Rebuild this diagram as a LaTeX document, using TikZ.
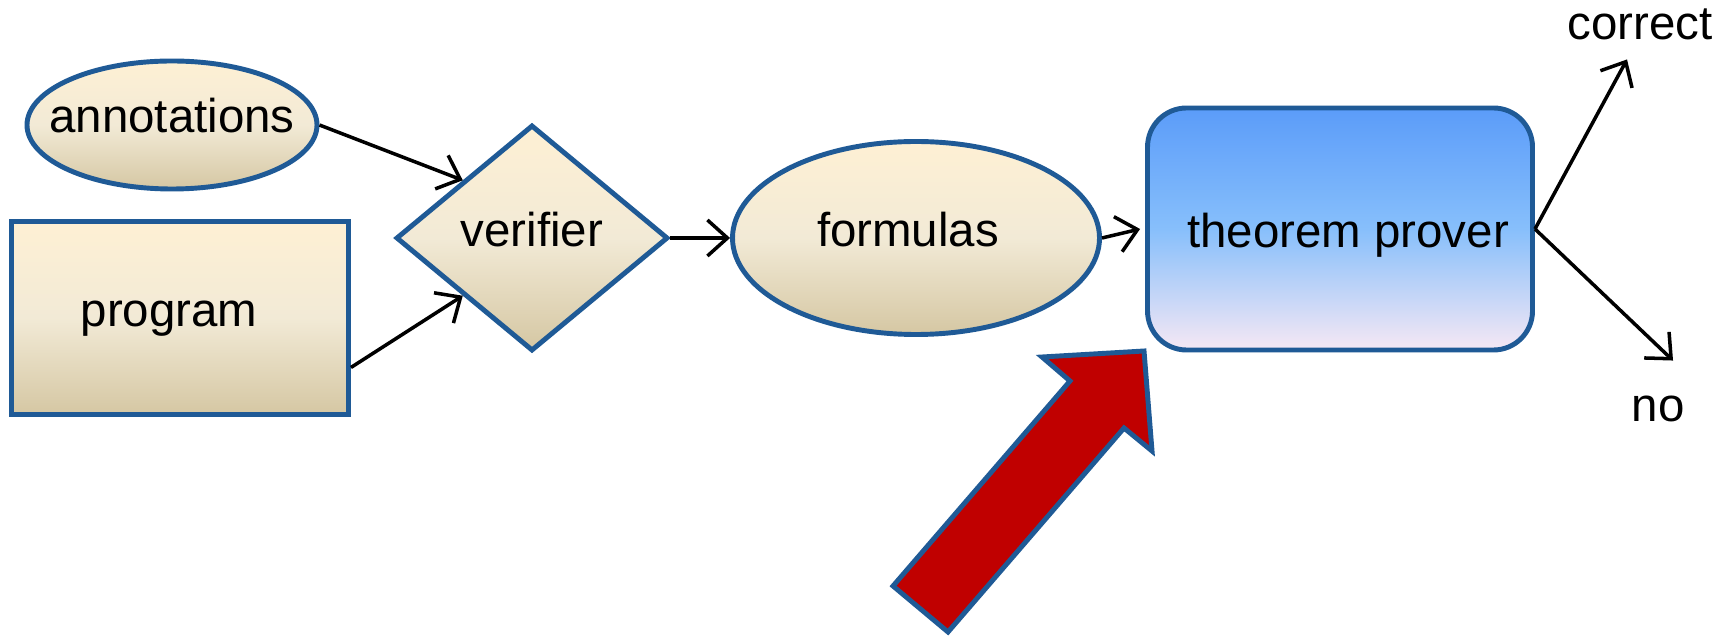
\documentclass[tikz,border=0pt]{standalone}
\usepackage{fontspec}
\setmainfont{Liberation Sans}
\usetikzlibrary{calc,positioning,shapes.geometric,arrows.meta}
\definecolor{rimblue}{HTML}{1F5A96}
\definecolor{sandtop}{HTML}{FEF0D4}
\definecolor{sandmid}{HTML}{F2EAD6}
\definecolor{sandbot}{HTML}{D5C7A3}
\definecolor{skytop}{HTML}{5B9CF9}
\definecolor{skymid}{HTML}{87BFFB}
\definecolor{skybot}{HTML}{F6E8F4}
\definecolor{arrowred}{HTML}{C00000}
% text with its baseline at (dx,dy) from the node centre, taking no room
\newcommand{\lbl}[3]{\raisebox{#2}[0pt][0pt]{\makebox[0pt]{\hspace*{#1}\hspace*{#1}#3}}}
\tikzset{
  sandbox/.style={draw=rimblue, line width=1.4pt, top color=sandtop, bottom color=sandbot, middle color=sandmid, inner sep=0pt},
  skybox/.style={draw=rimblue, line width=1.4pt, top color=skytop, bottom color=skybot, middle color=skymid, inner sep=0pt, rounded corners=0.39cm},
  flow/.style={line width=1pt, -{Straight Barb[length=2mm,width=3.6mm]}},
  plaintext/.style={inner sep=0pt},
  every node/.style={font=\fontsize{13.5}{16}\selectfont}
}
\begin{document}
\begin{tikzpicture}
			%%%%% FRAME %%%%%
			\useasboundingbox[fill=white] (0, 0) rectangle (17.33, -6.36);
			
			%%%%% INPUTS %%%%%
			\node[sandbox, ellipse, minimum width=2.90cm, minimum height=1.28cm] (annot) at (1.72, -1.25) {\lbl{0cm}{-0.08cm}{annotations}};
			\node[sandbox, rectangle, minimum width=3.37cm, minimum height=1.93cm] (prog) at (1.80, -3.18) {\lbl{-0.11cm}{-0.09cm}{program}};
			
			%%%%% CHAIN %%%%%
			\node[sandbox, diamond, minimum width=2.72cm, minimum height=2.26cm] (verif) at (5.32, -2.38) {\lbl{0cm}{-0.09cm}{verifier}};
			\node[sandbox, ellipse, minimum width=3.67cm, minimum height=1.93cm] (form) at (9.16, -2.38) {\lbl{-0.08cm}{-0.09cm}{formulas}};
			\node[skybox, rectangle, minimum width=3.85cm, minimum height=2.42cm] (prover) at (13.40, -2.29) {\lbl{0.08cm}{-0.19cm}{theorem prover}};
			
			%%%%% OUTCOMES %%%%%
			\node[plaintext] (correct) at (16.40, -0.40) {\lbl{0cm}{0cm}{correct}};
			\node[plaintext] (no) at (16.58, -4.22) {\lbl{0cm}{0cm}{no}};
			
			%%%%% CONNECTORS %%%%%
			\draw[flow] (annot.east) -- (verif.north west);
			\draw[flow] ($(prog.south east)!0.25!(prog.north east)$) -- (verif.south west);
			\draw[flow] (verif.east) -- (form.west);
			\draw[flow] (form.east) -- ([xshift=-0.5mm]prover.west);
			\draw[flow] (prover.east) -- ([xshift=-1.3mm, yshift=-1.7mm]correct.south);
			\draw[flow] (prover.east) -- ([xshift=1.5mm, yshift=5.9mm]no.north);
			
			%%%%% BIG ARROW %%%%%
			\draw[draw=rimblue, line width=1.4pt, fill=arrowred, line join=miter]
				(8.93, -5.86) -- (10.70, -3.81) -- (10.42, -3.57) -- (11.44, -3.51)
				-- (11.52, -4.51) -- (11.24, -4.28) -- (9.48, -6.32) -- cycle;
			
			%%%%% END %%%%%
		\end{tikzpicture}
\end{document}
